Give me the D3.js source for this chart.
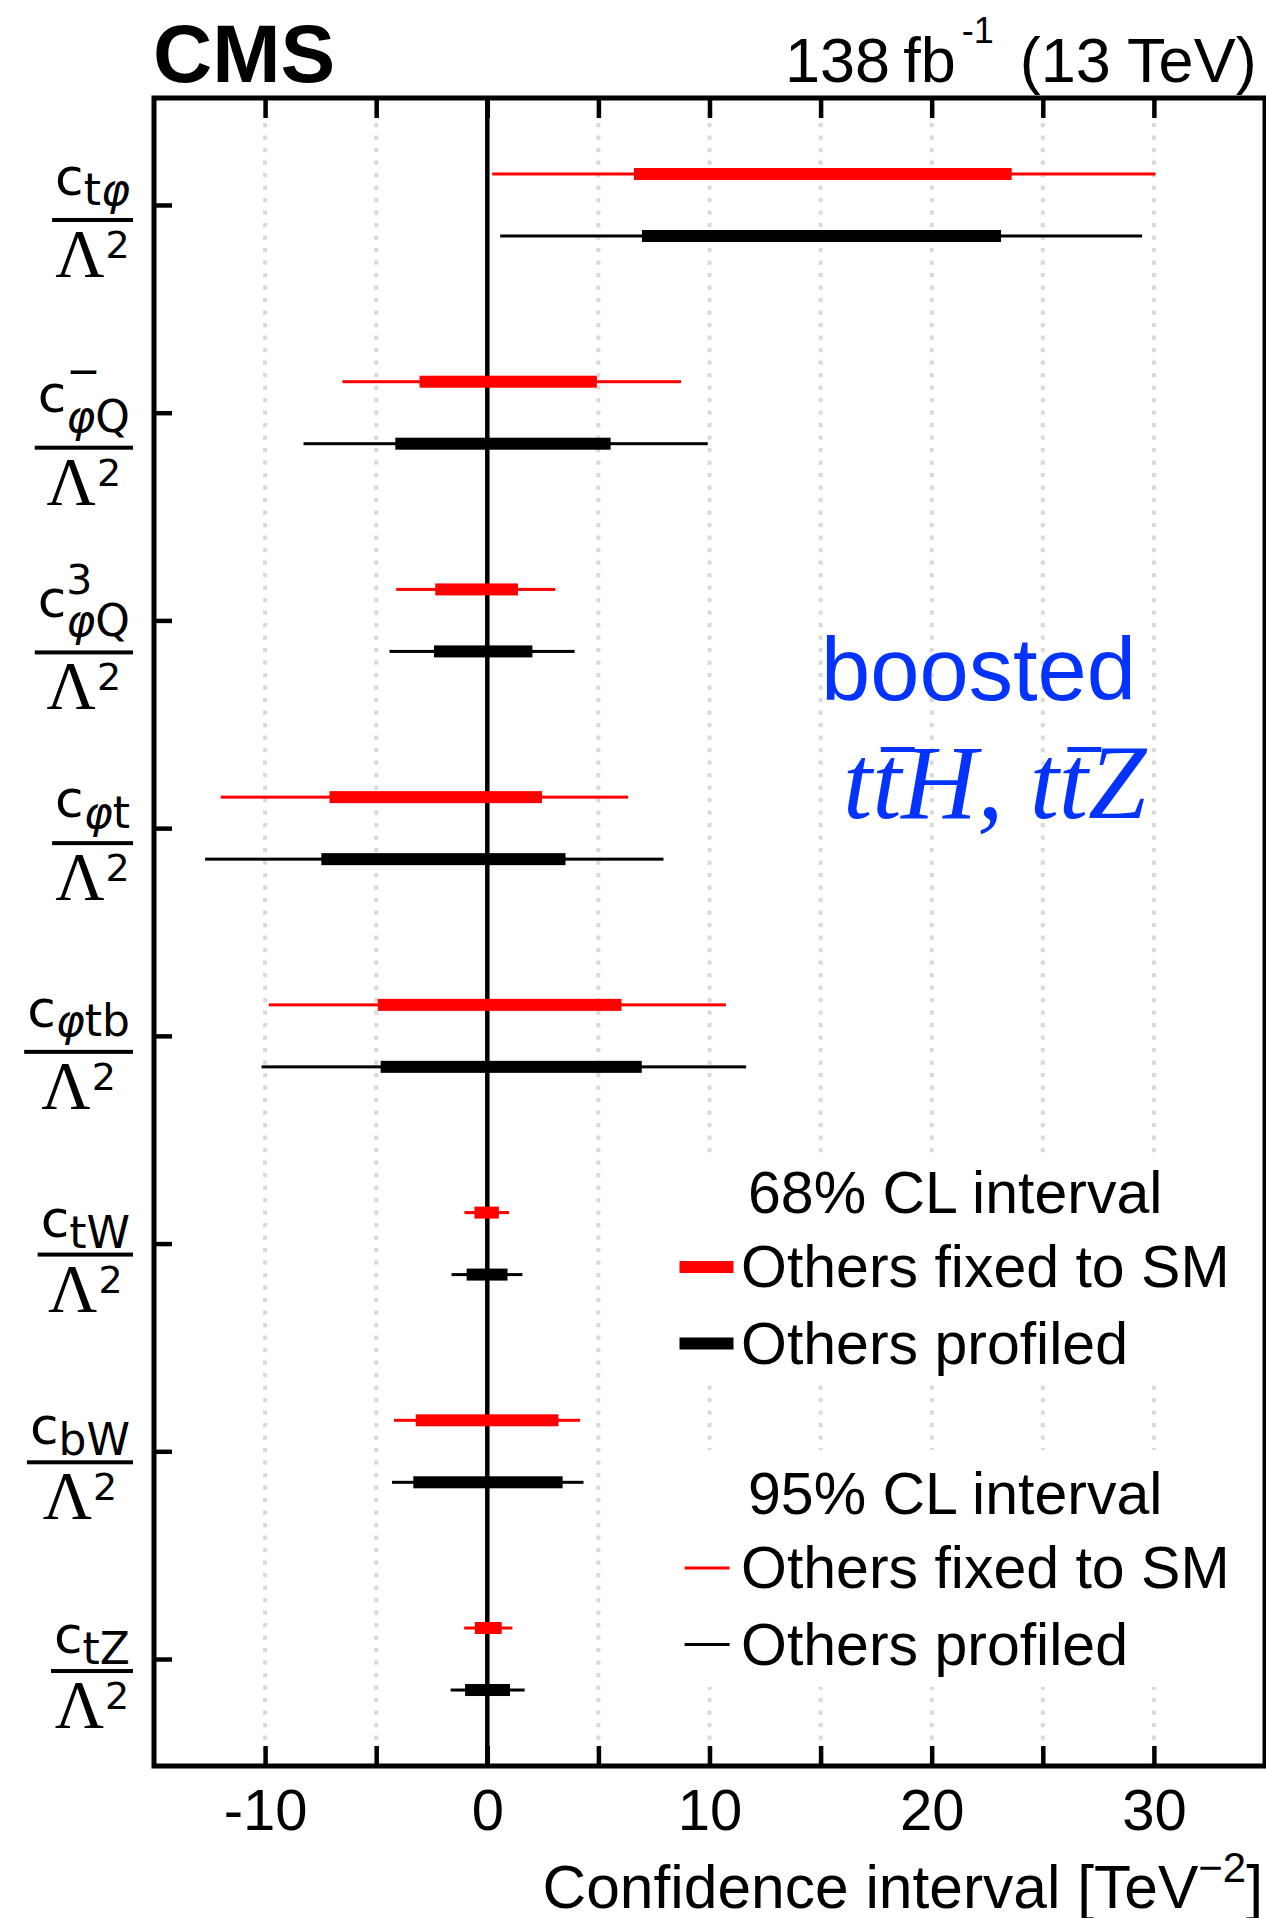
<!DOCTYPE html>
<html>
<head>
<meta charset="utf-8">
<script src="https://cdn.jsdelivr.net/npm/d3@7"></script>
<style>
  html, body { margin: 0; padding: 0; background: #fff; }
  svg { display: block; }
</style>
</head>
<body>
<svg id="chart" width="1266" height="1918"></svg>
<script>
// Wilson coefficients, listed top to bottom
const coefficients = ["ctφ", "cφQ−", "cφQ3", "cφt", "cφtb", "ctW", "cbW", "ctZ"];
const labelSub = ["tφ", "φQ", "φQ", "φt", "φtb", "tW", "bW", "tZ"];
const labelSup = ["", "−", "3", "", "", "", "", ""];

// Confidence intervals [low, high] in TeV^-2
const fixed68 = [[6.6, 23.6], [-3.05, 4.93], [-2.34, 1.38], [-7.1, 2.46], [-4.93, 6.04], [-0.58, 0.52], [-3.22, 3.2], [-0.56, 0.65]];
const fixed95 = [[0.22, 30.07], [-6.52, 8.72], [-4.1, 3.06], [-12.0, 6.34], [-9.83, 10.74], [-1.03, 0.98], [-4.2, 4.18], [-1.04, 1.13]];
const profiled68 = [[6.96, 23.12], [-4.14, 5.55], [-2.4, 2.03], [-7.47, 3.52], [-4.8, 6.95], [-0.93, 0.91], [-3.33, 3.39], [-1.0, 1.02]];
const profiled95 = [[0.58, 29.47], [-8.27, 9.92], [-4.4, 3.93], [-12.7, 7.93], [-10.16, 11.65], [-1.61, 1.58], [-4.29, 4.33], [-1.65, 1.68]];

// Axis ticks
const xTicks = [-10, -5, 0, 5, 10, 15, 20, 25, 30];
const xTickLabels = [-10, 0, 10, 20, 30];

// Legend and annotation texts
const legendTitles = ["68% CL interval", "95% CL interval"];
const legendLabels = ["Others fixed to SM", "Others profiled"];
const seriesColors = ["#ff0000", "#000000"];
const analysisLabel = "boosted";
const processLabel = "ttH, ttZ";

// ---------------------------------------------------------------
const SANS = "'Liberation Sans', Arial, Helvetica, sans-serif";
const MATH = "'DejaVu Sans', sans-serif";
const SERIF = "'Liberation Serif', 'Times New Roman', serif";
const BLUE = "#0433ff";

const svg = d3.select("#chart");
svg.append("rect").attr("width", 1266).attr("height", 1918).attr("fill", "#fff");

const plotTop = 98, plotBottom = 1766;
const x = d3.scaleLinear().domain([-15, 35]).range([154, 1265]);
const y = d3.scalePoint().domain(coefficients).range([plotTop, plotBottom]).padding(0.515);

// dotted vertical grid
svg.append("g").selectAll("line")
  .data(xTicks.filter(d => d !== 0))
  .join("line")
  .attr("x1", d => x(d)).attr("x2", d => x(d))
  .attr("y1", plotTop).attr("y2", plotBottom)
  .attr("stroke", "#d9d9d9").attr("stroke-width", 4)
  .attr("stroke-dasharray", "4.2 8.3");

// legend backgrounds
const legendBox = [{ top: 1157, h: 228, head: 1213 }, { top: 1450, h: 237, head: 1514 }];
svg.append("g").selectAll("rect").data(legendBox).join("rect")
  .attr("x", 655).attr("y", d => d.top).attr("width", 606).attr("height", d => d.h)
  .attr("fill", "#fff");

// zero line
svg.append("line")
  .attr("x1", x(0)).attr("x2", x(0)).attr("y1", plotTop).attr("y2", plotBottom)
  .attr("stroke", "#000").attr("stroke-width", 4.5);

// interval bars: thin = 95% CL, thick = 68% CL; red above (fixed), black below (profiled)
const rowOffset = 31;
const layers = [
  { vals: fixed95, dy: -rowOffset, h: 3, color: seriesColors[0] },
  { vals: profiled95, dy: rowOffset, h: 3, color: seriesColors[1] },
  { vals: fixed68, dy: -rowOffset, h: 12, color: seriesColors[0] },
  { vals: profiled68, dy: rowOffset, h: 12, color: seriesColors[1] }
];
layers.forEach(L => {
  svg.append("g").selectAll("rect").data(L.vals).join("rect")
    .attr("x", d => x(d[0]))
    .attr("width", d => x(d[1]) - x(d[0]))
    .attr("y", (d, i) => y(coefficients[i]) + L.dy - L.h / 2)
    .attr("height", L.h)
    .attr("fill", L.color);
});

// frame
svg.append("rect")
  .attr("x", x(-15)).attr("y", plotTop)
  .attr("width", x(35) - x(-15)).attr("height", plotBottom - plotTop)
  .attr("fill", "none").attr("stroke", "#000").attr("stroke-width", 5);

// axes ticks (inward)
function styleTicks(g) {
  g.select(".domain").remove();
  g.selectAll(".tick line").attr("stroke", "#000").attr("stroke-width", 4.5);
}
svg.append("g").attr("transform", `translate(0,${plotBottom})`)
  .call(d3.axisBottom(x).tickValues(xTicks).tickSize(-20).tickFormat(""))
  .call(styleTicks);
svg.append("g").attr("transform", `translate(0,${plotTop})`)
  .call(d3.axisTop(x).tickValues(xTicks).tickSize(-20).tickFormat(""))
  .call(styleTicks);
svg.append("g").attr("transform", `translate(${x(-15)},0)`)
  .call(d3.axisLeft(y).tickSize(-18).tickFormat(""))
  .call(styleTicks);

// x tick labels
svg.append("g").attr("transform", `translate(0,${plotBottom})`)
  .call(d3.axisBottom(x).tickValues(xTickLabels).tickSize(0).tickFormat(d => String(d)))
  .call(g => {
    g.select(".domain").remove();
    g.selectAll(".tick text")
      .attr("y", 64).attr("dy", 0)
      .attr("font-family", SANS).attr("font-size", 58).attr("fill", "#000");
  });

// x axis title
const xt = svg.append("text")
  .attr("x", 1263).attr("y", 1908).attr("text-anchor", "end")
  .attr("font-family", SANS).attr("font-size", 60.5).attr("fill", "#000");
xt.append("tspan").text("Confidence interval [TeV");
xt.append("tspan").attr("font-size", 42).attr("dy", -26).text("−2");
xt.append("tspan").attr("dy", 26).text("]");

// coefficient labels: c_sub^sup / Λ^2
const labelLayout = [
  { bar: 15, c: -25, sub: -15 },
  { bar: 35, c: -36, sub: -16, sup: -63 },
  { bar: 32, c: -35, sub: -16, sup: -58 },
  { bar: 15, c: -26, sub: -15 },
  { bar: 16, c: -25, sub: -16 },
  { bar: 11, c: -18, sub: -7 },
  { bar: 11, c: -18, sub: -7 },
  { bar: 12, c: -18, sub: -7 }
];
const labelRight = 133;
coefficients.forEach((name, i) => {
  const L = labelLayout[i];
  const g = svg.append("g").attr("transform", `translate(0,${y(name) + L.bar})`);
  const num = g.append("g");
  const cT = num.append("text").attr("x", 0).attr("y", L.c)
    .attr("font-family", MATH).attr("font-size", 52).attr("fill", "#000").text("c");
  const cw = cT.node().getComputedTextLength();
  const subT = num.append("text").attr("x", cw).attr("y", L.sub)
    .attr("font-family", MATH).attr("font-size", 44).attr("fill", "#000");
  Array.from(labelSub[i]).forEach(ch => {
    subT.append("tspan").attr("font-style", ch === "φ" ? "italic" : "normal").text(ch);
  });
  let extra = subT.node().getComputedTextLength();
  if (labelSup[i]) {
    const supT = num.append("text").attr("x", cw).attr("y", L.sup)
      .attr("font-family", MATH).attr("font-size", 41).attr("fill", "#000").text(labelSup[i]);
    extra = Math.max(extra, supT.node().getComputedTextLength());
  }
  const numW = cw + extra;
  const barW = numW + 6;
  const barLeft = labelRight - barW;
  num.attr("transform", `translate(${barLeft + (barW - numW) / 2},0)`);
  g.append("rect").attr("x", barLeft).attr("y", -2).attr("width", barW).attr("height", 4).attr("fill", "#000");

  const den = g.append("g");
  const lam = den.append("text").attr("x", 0).attr("y", 56)
    .attr("font-family", SERIF).attr("font-size", 68).attr("fill", "#000").text("Λ");
  const lw = lam.node().getComputedTextLength();
  const two = den.append("text").attr("x", lw + 1).attr("y", 38)
    .attr("font-family", MATH).attr("font-size", 38).attr("fill", "#000").text("2");
  const denW = lw + 1 + two.node().getComputedTextLength();
  den.attr("transform", `translate(${barLeft + (barW - denW) / 2},0)`);
});

// legend
const legendSwatchX = [679.5, 684.6], legendSwatchW = [54, 45], legendSwatchH = [12, 3];
legendBox.forEach((b, k) => {
  svg.append("text").attr("x", 748).attr("y", b.head)
    .attr("font-family", SANS).attr("font-size", 59).attr("fill", "#000").text(legendTitles[k]);
  legendLabels.forEach((lab, j) => {
    const base = b.head + 74 + j * 76.5;
    svg.append("rect")
      .attr("x", legendSwatchX[k]).attr("width", legendSwatchW[k])
      .attr("y", base - 20 - legendSwatchH[k] / 2).attr("height", legendSwatchH[k])
      .attr("fill", seriesColors[j]);
    svg.append("text").attr("x", 741).attr("y", base)
      .attr("font-family", SANS).attr("font-size", 59).attr("fill", "#000").text(lab);
  });
});

// analysis annotation
svg.append("text").attr("x", 821).attr("y", 700)
  .attr("font-family", SANS).attr("font-size", 88.5).attr("fill", BLUE).text(analysisLabel);
const proc = svg.append("text").attr("x", 843).attr("y", 818)
  .attr("font-family", SERIF).attr("font-style", "italic").attr("font-size", 105)
  .attr("fill", BLUE).text(processLabel);
// anti-top overbars: the t right before each boson symbol
Array.from(processLabel).forEach((ch, i) => {
  const next = processLabel[i + 1];
  if (ch === "t" && next && /[A-Z]/.test(next)) {
    const s = proc.node().getStartPositionOfChar(i).x;
    const e = proc.node().getEndPositionOfChar(i).x;
    const cx = (s + e) / 2 + 11;
    svg.append("rect").attr("x", cx - 17).attr("y", 747).attr("width", 34).attr("height", 5).attr("fill", BLUE);
  }
});

// header
svg.append("text").attr("x", 153).attr("y", 82)
  .attr("font-family", SANS).attr("font-weight", "bold").attr("font-size", 82)
  .attr("fill", "#000").text("CMS");
const lumi = svg.append("text").attr("x", 785).attr("y", 82)
  .attr("font-family", SANS).attr("font-size", 63).attr("fill", "#000");
lumi.append("tspan").text("138");
lumi.append("tspan").attr("dx", 13).text("fb");
lumi.append("tspan").attr("dx", 6).attr("dy", -39).attr("font-size", 36).text("-1");
lumi.append("tspan").attr("dx", 26).attr("dy", 39).text("(13 TeV)");
</script>
</body>
</html>
